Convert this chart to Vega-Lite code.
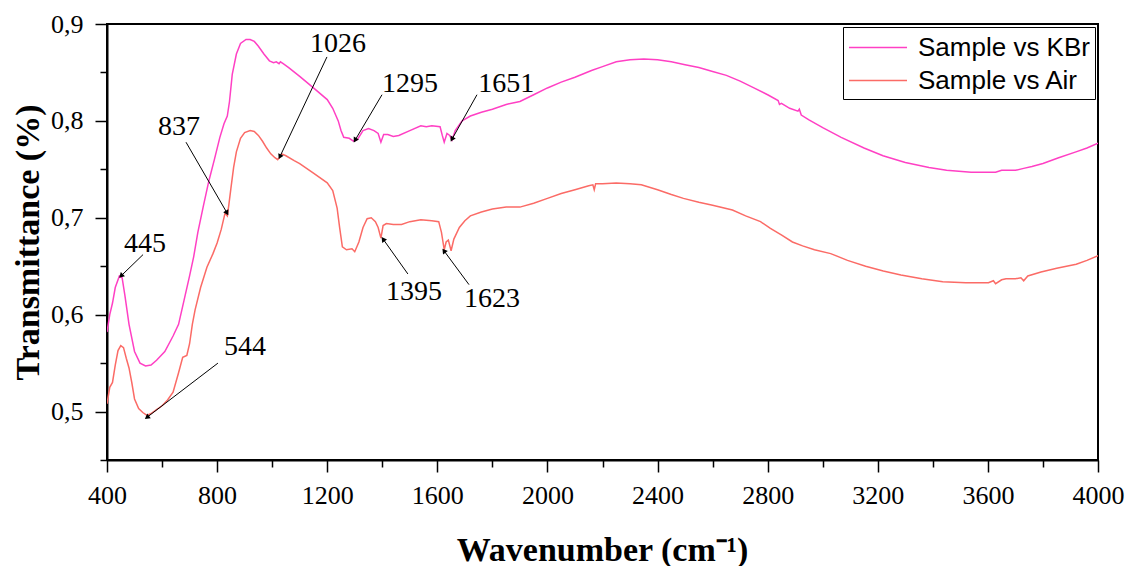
{
"$schema": "https://vega.github.io/schema/vega-lite/v6.json",
"width": 991, "height": 436,
"autosize": {"type": "none"},
"padding": {"left": 107, "top": 24, "right": 29, "bottom": 106},
"background": "#ffffff",
"config": {"view": {"stroke": "#000", "strokeWidth": 2}, "font": "Liberation Serif"},
"datasets": {
"spectra": [
{"series":"Sample vs KBr","wn":400,"t":0.582},{"series":"Sample vs KBr","wn":410,"t":0.600},{"series":"Sample vs KBr","wn":420,"t":0.612},{"series":"Sample vs KBr","wn":430,"t":0.628},{"series":"Sample vs KBr","wn":445,"t":0.640},{"series":"Sample vs KBr","wn":455,"t":0.638},{"series":"Sample vs KBr","wn":465,"t":0.620},{"series":"Sample vs KBr","wn":480,"t":0.590},{"series":"Sample vs KBr","wn":500,"t":0.562},{"series":"Sample vs KBr","wn":520,"t":0.550},{"series":"Sample vs KBr","wn":540,"t":0.547},{"series":"Sample vs KBr","wn":560,"t":0.548},{"series":"Sample vs KBr","wn":580,"t":0.553},{"series":"Sample vs KBr","wn":610,"t":0.562},{"series":"Sample vs KBr","wn":640,"t":0.578},{"series":"Sample vs KBr","wn":660,"t":0.590},{"series":"Sample vs KBr","wn":680,"t":0.615},{"series":"Sample vs KBr","wn":700,"t":0.640},{"series":"Sample vs KBr","wn":715,"t":0.660},{"series":"Sample vs KBr","wn":730,"t":0.685},{"series":"Sample vs KBr","wn":750,"t":0.712},{"series":"Sample vs KBr","wn":770,"t":0.738},{"series":"Sample vs KBr","wn":790,"t":0.760},{"series":"Sample vs KBr","wn":810,"t":0.783},{"series":"Sample vs KBr","wn":825,"t":0.797},{"series":"Sample vs KBr","wn":837,"t":0.805},{"series":"Sample vs KBr","wn":845,"t":0.820},{"series":"Sample vs KBr","wn":855,"t":0.848},{"series":"Sample vs KBr","wn":870,"t":0.869},{"series":"Sample vs KBr","wn":885,"t":0.880},{"series":"Sample vs KBr","wn":905,"t":0.884},{"series":"Sample vs KBr","wn":920,"t":0.884},{"series":"Sample vs KBr","wn":935,"t":0.882},{"series":"Sample vs KBr","wn":950,"t":0.877},{"series":"Sample vs KBr","wn":970,"t":0.869},{"series":"Sample vs KBr","wn":990,"t":0.862},{"series":"Sample vs KBr","wn":1005,"t":0.860},{"series":"Sample vs KBr","wn":1015,"t":0.861},{"series":"Sample vs KBr","wn":1025,"t":0.859},{"series":"Sample vs KBr","wn":1030,"t":0.861},{"series":"Sample vs KBr","wn":1040,"t":0.859},{"series":"Sample vs KBr","wn":1060,"t":0.855},{"series":"Sample vs KBr","wn":1100,"t":0.846},{"series":"Sample vs KBr","wn":1150,"t":0.834},{"series":"Sample vs KBr","wn":1200,"t":0.822},{"series":"Sample vs KBr","wn":1220,"t":0.813},{"series":"Sample vs KBr","wn":1240,"t":0.800},{"series":"Sample vs KBr","wn":1250,"t":0.790},{"series":"Sample vs KBr","wn":1260,"t":0.783},{"series":"Sample vs KBr","wn":1280,"t":0.782},{"series":"Sample vs KBr","wn":1295,"t":0.779},{"series":"Sample vs KBr","wn":1310,"t":0.781},{"series":"Sample vs KBr","wn":1330,"t":0.790},{"series":"Sample vs KBr","wn":1350,"t":0.792},{"series":"Sample vs KBr","wn":1370,"t":0.790},{"series":"Sample vs KBr","wn":1385,"t":0.787},{"series":"Sample vs KBr","wn":1395,"t":0.778},{"series":"Sample vs KBr","wn":1405,"t":0.786},{"series":"Sample vs KBr","wn":1420,"t":0.786},{"series":"Sample vs KBr","wn":1440,"t":0.784},{"series":"Sample vs KBr","wn":1460,"t":0.785},{"series":"Sample vs KBr","wn":1500,"t":0.790},{"series":"Sample vs KBr","wn":1540,"t":0.795},{"series":"Sample vs KBr","wn":1560,"t":0.794},{"series":"Sample vs KBr","wn":1580,"t":0.795},{"series":"Sample vs KBr","wn":1610,"t":0.794},{"series":"Sample vs KBr","wn":1618,"t":0.785},{"series":"Sample vs KBr","wn":1625,"t":0.778},{"series":"Sample vs KBr","wn":1635,"t":0.787},{"series":"Sample vs KBr","wn":1645,"t":0.785},{"series":"Sample vs KBr","wn":1653,"t":0.780},{"series":"Sample vs KBr","wn":1665,"t":0.790},{"series":"Sample vs KBr","wn":1690,"t":0.800},{"series":"Sample vs KBr","wn":1720,"t":0.805},{"series":"Sample vs KBr","wn":1760,"t":0.809},{"series":"Sample vs KBr","wn":1800,"t":0.812},{"series":"Sample vs KBr","wn":1850,"t":0.817},{"series":"Sample vs KBr","wn":1900,"t":0.820},{"series":"Sample vs KBr","wn":1950,"t":0.827},{"series":"Sample vs KBr","wn":2000,"t":0.834},{"series":"Sample vs KBr","wn":2050,"t":0.840},{"series":"Sample vs KBr","wn":2100,"t":0.845},{"series":"Sample vs KBr","wn":2160,"t":0.852},{"series":"Sample vs KBr","wn":2200,"t":0.856},{"series":"Sample vs KBr","wn":2250,"t":0.861},{"series":"Sample vs KBr","wn":2300,"t":0.863},{"series":"Sample vs KBr","wn":2350,"t":0.864},{"series":"Sample vs KBr","wn":2400,"t":0.863},{"series":"Sample vs KBr","wn":2450,"t":0.861},{"series":"Sample vs KBr","wn":2500,"t":0.858},{"series":"Sample vs KBr","wn":2550,"t":0.855},{"series":"Sample vs KBr","wn":2600,"t":0.851},{"series":"Sample vs KBr","wn":2650,"t":0.847},{"series":"Sample vs KBr","wn":2700,"t":0.841},{"series":"Sample vs KBr","wn":2750,"t":0.834},{"series":"Sample vs KBr","wn":2800,"t":0.827},{"series":"Sample vs KBr","wn":2838,"t":0.821},{"series":"Sample vs KBr","wn":2843,"t":0.817},{"series":"Sample vs KBr","wn":2850,"t":0.818},{"series":"Sample vs KBr","wn":2880,"t":0.813},{"series":"Sample vs KBr","wn":2910,"t":0.810},{"series":"Sample vs KBr","wn":2915,"t":0.812},{"series":"Sample vs KBr","wn":2922,"t":0.806},{"series":"Sample vs KBr","wn":2950,"t":0.801},{"series":"Sample vs KBr","wn":3000,"t":0.793},{"series":"Sample vs KBr","wn":3067,"t":0.783},{"series":"Sample vs KBr","wn":3150,"t":0.772},{"series":"Sample vs KBr","wn":3219,"t":0.764},{"series":"Sample vs KBr","wn":3300,"t":0.757},{"series":"Sample vs KBr","wn":3386,"t":0.752},{"series":"Sample vs KBr","wn":3450,"t":0.749},{"series":"Sample vs KBr","wn":3539,"t":0.747},{"series":"Sample vs KBr","wn":3628,"t":0.747},{"series":"Sample vs KBr","wn":3650,"t":0.749},{"series":"Sample vs KBr","wn":3700,"t":0.749},{"series":"Sample vs KBr","wn":3730,"t":0.751},{"series":"Sample vs KBr","wn":3760,"t":0.753},{"series":"Sample vs KBr","wn":3800,"t":0.756},{"series":"Sample vs KBr","wn":3857,"t":0.762},{"series":"Sample vs KBr","wn":3920,"t":0.768},{"series":"Sample vs KBr","wn":3960,"t":0.772},{"series":"Sample vs KBr","wn":4000,"t":0.777},
{"series":"Sample vs Air","wn":400,"t":0.508},{"series":"Sample vs Air","wn":410,"t":0.525},{"series":"Sample vs Air","wn":420,"t":0.530},{"series":"Sample vs Air","wn":430,"t":0.548},{"series":"Sample vs Air","wn":440,"t":0.563},{"series":"Sample vs Air","wn":450,"t":0.568},{"series":"Sample vs Air","wn":460,"t":0.566},{"series":"Sample vs Air","wn":470,"t":0.555},{"series":"Sample vs Air","wn":480,"t":0.545},{"series":"Sample vs Air","wn":490,"t":0.530},{"series":"Sample vs Air","wn":500,"t":0.513},{"series":"Sample vs Air","wn":515,"t":0.503},{"series":"Sample vs Air","wn":530,"t":0.499},{"series":"Sample vs Air","wn":545,"t":0.496},{"series":"Sample vs Air","wn":560,"t":0.498},{"series":"Sample vs Air","wn":580,"t":0.502},{"series":"Sample vs Air","wn":600,"t":0.506},{"series":"Sample vs Air","wn":620,"t":0.512},{"series":"Sample vs Air","wn":640,"t":0.520},{"series":"Sample vs Air","wn":660,"t":0.540},{"series":"Sample vs Air","wn":675,"t":0.556},{"series":"Sample vs Air","wn":690,"t":0.558},{"series":"Sample vs Air","wn":700,"t":0.570},{"series":"Sample vs Air","wn":710,"t":0.590},{"series":"Sample vs Air","wn":720,"t":0.605},{"series":"Sample vs Air","wn":740,"t":0.628},{"series":"Sample vs Air","wn":763,"t":0.649},{"series":"Sample vs Air","wn":785,"t":0.663},{"series":"Sample vs Air","wn":800,"t":0.674},{"series":"Sample vs Air","wn":815,"t":0.688},{"series":"Sample vs Air","wn":829,"t":0.705},{"series":"Sample vs Air","wn":837,"t":0.702},{"series":"Sample vs Air","wn":842,"t":0.712},{"series":"Sample vs Air","wn":850,"t":0.730},{"series":"Sample vs Air","wn":860,"t":0.752},{"series":"Sample vs Air","wn":870,"t":0.768},{"series":"Sample vs Air","wn":885,"t":0.782},{"series":"Sample vs Air","wn":900,"t":0.788},{"series":"Sample vs Air","wn":920,"t":0.790},{"series":"Sample vs Air","wn":935,"t":0.789},{"series":"Sample vs Air","wn":950,"t":0.785},{"series":"Sample vs Air","wn":965,"t":0.779},{"series":"Sample vs Air","wn":980,"t":0.772},{"series":"Sample vs Air","wn":995,"t":0.766},{"series":"Sample vs Air","wn":1010,"t":0.762},{"series":"Sample vs Air","wn":1020,"t":0.760},{"series":"Sample vs Air","wn":1028,"t":0.763},{"series":"Sample vs Air","wn":1035,"t":0.766},{"series":"Sample vs Air","wn":1050,"t":0.764},{"series":"Sample vs Air","wn":1080,"t":0.759},{"series":"Sample vs Air","wn":1100,"t":0.756},{"series":"Sample vs Air","wn":1150,"t":0.746},{"series":"Sample vs Air","wn":1200,"t":0.736},{"series":"Sample vs Air","wn":1220,"t":0.728},{"series":"Sample vs Air","wn":1236,"t":0.710},{"series":"Sample vs Air","wn":1245,"t":0.690},{"series":"Sample vs Air","wn":1255,"t":0.670},{"series":"Sample vs Air","wn":1270,"t":0.667},{"series":"Sample vs Air","wn":1290,"t":0.668},{"series":"Sample vs Air","wn":1300,"t":0.665},{"series":"Sample vs Air","wn":1315,"t":0.675},{"series":"Sample vs Air","wn":1330,"t":0.690},{"series":"Sample vs Air","wn":1345,"t":0.699},{"series":"Sample vs Air","wn":1360,"t":0.700},{"series":"Sample vs Air","wn":1375,"t":0.696},{"series":"Sample vs Air","wn":1385,"t":0.690},{"series":"Sample vs Air","wn":1395,"t":0.679},{"series":"Sample vs Air","wn":1403,"t":0.692},{"series":"Sample vs Air","wn":1415,"t":0.694},{"series":"Sample vs Air","wn":1440,"t":0.693},{"series":"Sample vs Air","wn":1470,"t":0.693},{"series":"Sample vs Air","wn":1500,"t":0.696},{"series":"Sample vs Air","wn":1540,"t":0.698},{"series":"Sample vs Air","wn":1580,"t":0.697},{"series":"Sample vs Air","wn":1605,"t":0.696},{"series":"Sample vs Air","wn":1615,"t":0.685},{"series":"Sample vs Air","wn":1625,"t":0.667},{"series":"Sample vs Air","wn":1632,"t":0.675},{"series":"Sample vs Air","wn":1640,"t":0.677},{"series":"Sample vs Air","wn":1650,"t":0.666},{"series":"Sample vs Air","wn":1660,"t":0.678},{"series":"Sample vs Air","wn":1680,"t":0.690},{"series":"Sample vs Air","wn":1700,"t":0.697},{"series":"Sample vs Air","wn":1720,"t":0.702},{"series":"Sample vs Air","wn":1760,"t":0.706},{"series":"Sample vs Air","wn":1800,"t":0.709},{"series":"Sample vs Air","wn":1850,"t":0.711},{"series":"Sample vs Air","wn":1900,"t":0.711},{"series":"Sample vs Air","wn":1950,"t":0.715},{"series":"Sample vs Air","wn":2000,"t":0.720},{"series":"Sample vs Air","wn":2050,"t":0.725},{"series":"Sample vs Air","wn":2100,"t":0.729},{"series":"Sample vs Air","wn":2150,"t":0.733},{"series":"Sample vs Air","wn":2165,"t":0.734},{"series":"Sample vs Air","wn":2170,"t":0.729},{"series":"Sample vs Air","wn":2175,"t":0.735},{"series":"Sample vs Air","wn":2200,"t":0.735},{"series":"Sample vs Air","wn":2250,"t":0.736},{"series":"Sample vs Air","wn":2300,"t":0.735},{"series":"Sample vs Air","wn":2341,"t":0.734},{"series":"Sample vs Air","wn":2400,"t":0.729},{"series":"Sample vs Air","wn":2450,"t":0.724},{"series":"Sample vs Air","wn":2494,"t":0.720},{"series":"Sample vs Air","wn":2550,"t":0.716},{"series":"Sample vs Air","wn":2600,"t":0.713},{"series":"Sample vs Air","wn":2672,"t":0.708},{"series":"Sample vs Air","wn":2720,"t":0.702},{"series":"Sample vs Air","wn":2774,"t":0.696},{"series":"Sample vs Air","wn":2810,"t":0.689},{"series":"Sample vs Air","wn":2851,"t":0.682},{"series":"Sample vs Air","wn":2890,"t":0.675},{"series":"Sample vs Air","wn":2927,"t":0.671},{"series":"Sample vs Air","wn":2970,"t":0.667},{"series":"Sample vs Air","wn":3029,"t":0.663},{"series":"Sample vs Air","wn":3090,"t":0.656},{"series":"Sample vs Air","wn":3156,"t":0.650},{"series":"Sample vs Air","wn":3220,"t":0.645},{"series":"Sample vs Air","wn":3284,"t":0.641},{"series":"Sample vs Air","wn":3360,"t":0.637},{"series":"Sample vs Air","wn":3436,"t":0.634},{"series":"Sample vs Air","wn":3520,"t":0.633},{"series":"Sample vs Air","wn":3602,"t":0.633},{"series":"Sample vs Air","wn":3620,"t":0.635},{"series":"Sample vs Air","wn":3628,"t":0.632},{"series":"Sample vs Air","wn":3650,"t":0.636},{"series":"Sample vs Air","wn":3666,"t":0.637},{"series":"Sample vs Air","wn":3700,"t":0.637},{"series":"Sample vs Air","wn":3720,"t":0.638},{"series":"Sample vs Air","wn":3730,"t":0.635},{"series":"Sample vs Air","wn":3745,"t":0.640},{"series":"Sample vs Air","wn":3793,"t":0.644},{"series":"Sample vs Air","wn":3850,"t":0.648},{"series":"Sample vs Air","wn":3921,"t":0.652},{"series":"Sample vs Air","wn":3960,"t":0.656},{"series":"Sample vs Air","wn":4000,"t":0.661}
],
"ann": [
{"label":"1026","tx":1239,"ty":0.879,"x1":1199,"y1":0.866,"x2":1028,"y2":0.763,"angle":205},
{"label":"837","tx":662,"ty":0.794,"x1":687,"y1":0.778,"x2":836,"y2":0.705,"angle":150},
{"label":"1295","tx":1501,"ty":0.838,"x1":1399,"y1":0.827,"x2":1301,"y2":0.780,"angle":210},
{"label":"1651","tx":1850,"ty":0.838,"x1":1744,"y1":0.827,"x2":1653,"y2":0.781,"angle":209},
{"label":"1395","tx":1515,"ty":0.623,"x1":1493,"y1":0.642,"x2":1403,"y2":0.678,"angle":324},
{"label":"1623","tx":1799,"ty":0.616,"x1":1715,"y1":0.631,"x2":1624,"y2":0.666,"angle":324},
{"label":"445","tx":538,"ty":0.673,"x1":531,"y1":0.662,"x2":451,"y2":0.640,"angle":226},
{"label":"544","tx":901,"ty":0.567,"x1":803,"y1":0.550,"x2":545,"y2":0.494,"angle":233}
]
},
"layer": [
{
"data": {"name": "spectra"},
"mark": {"type": "line", "strokeWidth": 1.5, "clip": true},
"encoding": {
"x": {"field": "wn", "type": "quantitative", "title": "Wavenumber (cm⁻¹)", "scale": {"domain": [400, 4000], "nice": false},
"axis": {"values": [400,600,800,1000,1200,1400,1600,1800,2000,2200,2400,2600,2800,3000,3200,3400,3600,3800,4000], "format": "d",
"labelExpr": "datum.value % 400 === 0 ? datum.label : ''",
"tickSize": {"condition": {"test": "datum.value % 400 === 0", "value": 12}, "value": 7},
"tickColor": "#000", "tickWidth": 1.5, "domainColor": "#000", "domainWidth": 2, "grid": false,
"labelFont": "Liberation Serif", "labelFontSize": 26, "labelColor": "#000", "labelPadding": 10, "labelFlush": false, "labelOverlap": false,
"titleFont": "Liberation Serif", "titleFontSize": 34, "titleFontWeight": "bold", "titleColor": "#000", "titleX": 495, "titleY": 100, "titleBaseline": "alphabetic"}},
"y": {"field": "t", "type": "quantitative", "title": "Transmittance (%)", "scale": {"domain": [0.45, 0.9], "nice": false, "zero": false},
"axis": {"values": [0.45,0.5,0.55,0.6,0.65,0.7,0.75,0.8,0.85,0.9],
"labelExpr": "abs(datum.value*10 - round(datum.value*10)) < 0.001 ? replace(format(datum.value, '.1f'), '.', ',') : ''",
"tickSize": {"condition": {"test": "abs(datum.value*10 - round(datum.value*10)) < 0.001", "value": 12}, "value": 7},
"tickColor": "#000", "tickWidth": 1.5, "domainColor": "#000", "domainWidth": 2, "grid": false,
"labelFont": "Liberation Serif", "labelFontSize": 26, "labelColor": "#000", "labelPadding": 12, "labelFlush": false, "labelOverlap": false,
"titleFont": "Liberation Serif", "titleFontSize": 34, "titleFontWeight": "bold", "titleColor": "#000", "titleX": -69, "titleY": 218, "titleBaseline": "alphabetic"}},
"color": {"field": "series", "type": "nominal",
"scale": {"domain": ["Sample vs KBr", "Sample vs Air"], "range": ["#ff40c4", "#fb6b66"]},
"legend": {"title": null, "orient": "none", "legendX": 736, "legendY": 3, "direction": "vertical",
"symbolType": "M-1,0H3", "symbolSize": 841, "symbolStrokeWidth": 1.5,
"labelFont": "Liberation Sans", "labelFontSize": 26, "labelColor": "#000", "labelOffset": 39, "labelLimit": 400,
"strokeColor": "#000", "fillColor": "#fff", "padding": 5, "rowPadding": 4}}
}
},
{
"data": {"name": "ann"},
"mark": {"type": "rule", "color": "#000", "strokeWidth": 1},
"encoding": {
"x": {"field": "x1", "type": "quantitative", "title": "Wavenumber (cm⁻¹)"},
"y": {"field": "y1", "type": "quantitative", "title": "Transmittance (%)"},
"x2": {"field": "x2"}, "y2": {"field": "y2"}
}
},
{
"data": {"name": "ann"},
"mark": {"type": "point", "shape": "triangle-up", "filled": true, "color": "#000", "size": 35, "opacity": 1},
"encoding": {
"x": {"field": "x2", "type": "quantitative", "title": "Wavenumber (cm⁻¹)"},
"y": {"field": "y2", "type": "quantitative", "title": "Transmittance (%)"},
"angle": {"field": "angle", "type": "quantitative", "scale": null}
}
},
{
"data": {"name": "ann"},
"mark": {"type": "text", "fontSize": 28, "font": "Liberation Serif", "color": "#000", "baseline": "middle", "align": "center"},
"encoding": {
"x": {"field": "tx", "type": "quantitative", "title": "Wavenumber (cm⁻¹)"},
"y": {"field": "ty", "type": "quantitative", "title": "Transmittance (%)"},
"text": {"field": "label"}
}
}
]
}
